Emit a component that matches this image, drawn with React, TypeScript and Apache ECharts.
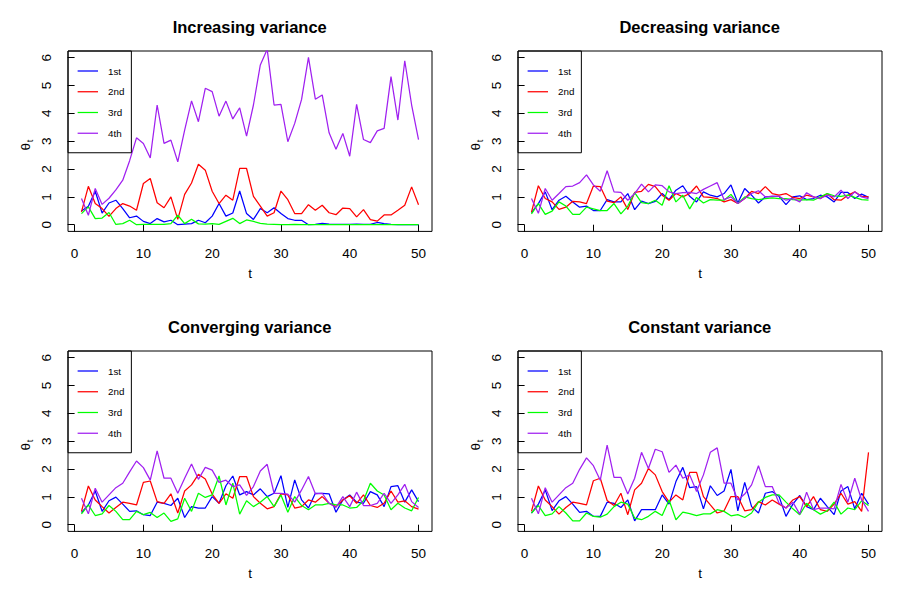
import React, { useEffect, useRef } from "react";
import * as echarts from "echarts";

const tValues = [1,2,3,4,5,6,7,8,9,10,11,12,13,14,15,16,17,18,19,20,21,22,23,24,25,26,27,28,29,30,31,32,33,34,35,36,37,38,39,40,41,42,43,44,45,46,47,48,49,50];
const seriesNames = ["1st", "2nd", "3rd", "4th"];
const seriesColors = ["#0000FF", "#FF0000", "#00FF00", "#A020F0"];
const panelTitles = ["Increasing variance", "Decreasing variance", "Converging variance", "Constant variance"];
const xTicks = [0, 10, 20, 30, 40, 50];
const yTicks = [0, 1, 2, 3, 4, 5, 6];

// Increasing variance
const incFirst = [0.49,0.66,1.2,0.42,0.78,0.88,0.58,0.25,0.31,0.12, 0.04,0.22,0.1,0.16,0.0,0.02,0.04,0.16,0.07,0.31, 0.76,0.31,0.42,1.21,0.4,0.19,0.58,0.43,0.61,0.4, 0.22,0.16,0.16,0.0,0.01,0.05,0.02,0.01,0.01,0.01, 0.02,0.01,0.01,0.08,0.04,0.01,0.0,0.0,0.0,0.0];
const incSecond = [0.46,1.38,0.76,0.58,0.3,0.58,0.76,0.67,0.52,1.48, 1.66,0.79,0.61,1.0,0.19,1.09,1.5,2.17,1.96,1.2, 0.76,1.06,0.88,2.02,2.02,1.02,0.67,0.31,0.43,1.21, 0.9,0.4,0.4,0.72,0.52,0.7,0.43,0.36,0.6,0.58, 0.28,0.54,0.18,0.13,0.35,0.35,0.52,0.7,1.36,0.72];
const incThird = [0.4,0.64,0.22,0.24,0.44,0.01,0.04,0.16,0.0,0.01, 0.01,0.01,0.01,0.04,0.34,0.04,0.2,0.03,0.02,0.04, 0.01,0.12,0.23,0.04,0.17,0.12,0.05,0.02,0.01,0.0, 0.0,0.01,0.0,0.0,0.0,0.0,0.0,0.0,0.0,0.0, 0.0,0.0,0.0,0.0,0.0,0.0,0.0,0.0,0.0,0.0];
const incFourth = [0.94,0.34,1.3,0.73,0.95,1.25,1.6,2.3,3.12,2.92, 2.4,4.3,2.92,3.04,2.26,3.4,4.45,3.7,4.9,4.78, 3.9,4.44,3.8,4.2,3.18,4.3,5.74,6.3,4.3,4.32, 2.98,3.64,4.5,6.01,4.51,4.66,3.3,2.71,3.28,2.46, 4.32,3.06,2.95,3.37,3.46,5.32,3.76,5.89,4.3,3.06];

// Decreasing variance
const decFirst = [0.43,0.76,1.18,0.54,0.88,1.02,0.82,0.63,0.67,0.51, 0.51,0.9,0.82,0.82,1.12,0.54,0.85,0.76,0.84,1.12, 0.9,1.24,1.4,1.02,0.82,1.18,1.06,1.0,1.12,1.43, 0.78,1.3,1.06,0.78,1.0,1.02,1.02,0.72,1.0,1.04, 0.9,0.94,1.06,1.0,0.82,1.16,1.16,0.94,1.1,0.98];
const decSecond = [0.45,1.4,0.94,0.82,0.55,0.63,0.84,0.82,0.76,1.39, 1.37,0.85,0.79,1.0,0.55,1.16,1.2,1.45,1.37,1.06, 0.88,1.12,1.0,1.12,1.39,1.0,0.98,0.94,0.82,0.9, 0.76,0.94,1.2,1.12,1.37,1.12,1.06,1.12,0.98,0.94, 1.06,1.0,0.94,1.12,0.9,0.88,1.06,1.18,1.02,1.0];
const decThird = [0.39,0.76,0.37,0.49,0.82,0.67,0.37,0.37,0.63,0.57, 0.51,0.51,0.76,0.39,0.67,1.15,0.79,0.76,0.88,0.7, 1.4,0.82,1.06,0.57,0.98,0.78,0.9,0.88,0.88,1.09, 0.76,1.0,0.94,0.9,0.94,0.96,0.94,0.94,0.9,0.88, 0.9,0.88,1.0,1.12,1.04,1.02,1.06,0.98,0.9,0.88];
const decFourth = [0.94,0.41,1.3,0.88,1.12,1.37,1.39,1.51,1.79,1.43, 1.2,1.94,1.18,1.16,0.88,1.12,1.46,1.18,1.43,1.4, 1.18,1.12,1.15,1.16,1.12,1.27,1.39,1.51,0.9,1.0, 0.76,0.94,1.12,1.22,1.0,1.02,1.02,0.88,0.94,0.82, 1.15,1.0,0.94,1.06,1.0,1.24,0.94,1.18,1.0,0.94];

// Converging variance
const convFirst = [0.44,0.71,1.21,0.48,0.86,0.99,0.74,0.48,0.5,0.36, 0.33,0.81,0.77,0.69,0.95,0.26,0.65,0.6,0.6,1.01, 0.77,1.4,1.75,1.07,1.19,1.07,1.29,1.01,1.13,1.76, 0.62,1.61,0.89,0.6,1.13,1.13,1.11,0.45,0.89,1.07, 0.81,0.77,1.19,1.07,0.65,1.37,1.4,0.81,1.25,0.83];
const convSecond = [0.48,1.39,0.89,0.65,0.42,0.62,0.81,0.77,0.71,1.52, 1.57,0.83,0.77,1.11,0.42,1.21,1.43,1.81,1.64,1.1, 0.77,1.11,0.95,1.73,1.73,1.01,0.77,0.57,0.65,1.11, 1.07,0.6,0.65,0.89,0.81,1.01,0.77,0.65,0.89,1.04, 0.77,1.07,0.69,0.62,0.77,1.21,0.81,0.86,0.65,0.56];
const convThird = [0.39,0.71,0.33,0.39,0.69,0.48,0.18,0.18,0.48,0.36, 0.44,0.26,0.42,0.12,0.21,0.95,0.48,1.13,0.98,1.07, 1.75,0.71,1.49,0.38,0.86,0.65,0.81,1.01,0.65,1.07, 0.45,1.01,0.69,0.54,0.71,0.71,0.77,0.71,0.71,0.6, 0.62,0.86,1.49,1.21,1.07,0.54,0.77,0.6,0.5,0.98];
const convFourth = [0.95,0.39,1.31,0.81,1.07,1.33,1.49,1.9,2.29,2.05, 1.6,2.65,1.67,1.67,1.13,1.67,2.18,1.63,2.06,1.96, 1.52,1.6,1.37,1.43,1.05,1.37,1.93,2.17,1.13,1.13, 1.1,0.81,1.25,1.73,1.11,1.13,0.77,0.62,1.01,0.65, 1.17,0.69,0.69,0.77,1.13,0.77,1.07,1.45,0.83,0.62];

// Constant variance
const constFirst = [0.42,0.74,1.25,0.51,0.86,1.01,0.74,0.44,0.48,0.3, 0.3,0.81,0.77,0.62,0.89,0.14,0.54,0.54,0.54,1.07, 0.74,1.55,2.06,1.33,1.37,0.57,1.4,1.05,1.21,1.99, 0.5,1.52,0.65,0.42,1.13,1.19,1.01,0.3,0.74,1.05, 0.65,0.54,0.95,0.65,0.36,1.21,1.37,0.57,1.13,0.74];
const constSecond = [0.48,1.39,0.89,0.65,0.38,0.62,0.81,0.77,0.71,1.58, 1.67,0.87,0.69,1.13,0.36,1.25,1.49,2.02,1.79,1.19, 0.81,1.07,0.89,1.88,1.88,1.01,0.71,0.42,0.5,1.01, 1.01,0.5,0.54,0.83,0.71,0.89,0.74,0.6,0.89,1.01, 0.65,1.01,0.54,0.48,0.74,1.13,0.74,0.83,0.48,2.6];
const constThird = [0.42,0.69,0.33,0.39,0.65,0.42,0.14,0.14,0.42,0.3, 0.27,0.38,0.65,0.81,0.74,0.24,0.18,0.3,0.48,0.33, 0.89,0.18,0.45,0.4,0.33,0.39,0.39,0.54,0.48,0.32, 0.36,0.26,0.42,0.81,0.98,1.07,1.07,0.81,0.57,0.36, 0.77,0.54,0.38,0.5,0.81,0.38,0.6,0.54,0.86,0.69];
const constFourth = [0.95,0.39,1.33,0.81,1.07,1.33,1.49,1.99,2.4,2.12, 1.6,2.86,1.7,1.7,1.1,1.67,2.6,2.02,2.71,2.62, 1.88,2.14,1.67,1.79,1.19,1.79,2.6,2.76,1.49,1.49, 0.89,1.1,1.43,2.12,1.37,1.37,0.77,0.6,0.81,0.38, 1.17,0.54,0.6,0.6,0.57,1.45,0.81,1.67,0.89,0.48];

const panelData = [
  [incFirst, incSecond, incThird, incFourth],
  [decFirst, decSecond, decThird, decFourth],
  [convFirst, convSecond, convThird, convFourth],
  [constFirst, constSecond, constThird, constFourth],
];

const FONT = '"Liberation Sans", Arial, Helvetica, sans-serif';
const GRID_W = 364;
const GRID_H = 180.4;
const gridPos = [
  { left: 68, top: 51 },
  { left: 518, top: 51 },
  { left: 68, top: 351 },
  { left: 518, top: 351 },
];

function buildOption() {
  const grid: any[] = [];
  const xAxis: any[] = [];
  const yAxis: any[] = [];
  const series: any[] = [];
  const title: any[] = [];
  const legend: any[] = [];
  const graphic: any[] = [];

  gridPos.forEach((g, p) => {
    grid.push({
      left: g.left, top: g.top, width: GRID_W, height: GRID_H,
      show: true, borderColor: "#000", borderWidth: 1, backgroundColor: "transparent",
      containLabel: false,
    });
    xAxis.push({
      type: "value", gridIndex: p, min: -0.96, max: 51.96,
      axisLine: { show: false },
      axisTick: { show: true, length: 7, lineStyle: { color: "#000", width: 1 }, customValues: xTicks },
      axisLabel: { customValues: xTicks, margin: 15.5, fontSize: 13.5, color: "#000", fontFamily: FONT },
      splitLine: { show: false },
      name: "t", nameLocation: "middle", nameGap: 35.5,
      nameTextStyle: { fontSize: 13.5, color: "#000", fontFamily: FONT },
    });
    yAxis.push({
      type: "value", gridIndex: p, min: -0.24, max: 6.24,
      axisLine: { show: false },
      axisTick: { show: true, length: 7, lineStyle: { color: "#000", width: 1 }, customValues: yTicks },
      axisLabel: { customValues: yTicks, rotate: 90, margin: 14.5, fontSize: 13.5, color: "#000", fontFamily: FONT },
      splitLine: { show: false },
    });
    title.push({
      text: panelTitles[p], left: g.left + GRID_W / 2 - 0.3, top: g.top - 32.3,
      textAlign: "center", padding: 0,
      textStyle: { fontSize: 16.5, fontWeight: "bold", color: "#000", fontFamily: FONT },
    });
    legend.push({
      orient: "vertical", left: g.left, top: g.top, selectedMode: false,
      data: seriesNames, itemWidth: 20.4, itemHeight: 14, itemGap: 6.75,
      padding: [13, 7, 12.5, 9],
      borderColor: "#000", borderWidth: 1, borderRadius: 0, backgroundColor: "transparent",
      itemStyle: { opacity: 0 },
      lineStyle: { width: 1.25, opacity: 1 },
      textStyle: { fontSize: 9.8, color: "#000", fontFamily: FONT, lineHeight: 14, width: 16, padding: [0, 0, 0, 5] },
    });
    graphic.push({
      type: "group", x: g.left - 43, y: g.top + 95.7, rotation: Math.PI / 2, silent: true,
      children: [
        { type: "text", x: 0, y: 0, style: { text: "θ", fontSize: 13.5, fontFamily: FONT, fill: "#000", align: "center", verticalAlign: "middle" } },
        { type: "text", x: 4.5, y: 4, style: { text: "t", fontSize: 9.5, fontFamily: FONT, fill: "#000", align: "left", verticalAlign: "middle" } },
      ],
    });
    panelData[p].forEach((vals, k) => {
      series.push({
        type: "line", name: seriesNames[k], xAxisIndex: p, yAxisIndex: p,
        data: tValues.map((t, i) => [t, vals[i]]),
        showSymbol: false, symbol: "none", clip: true, silent: true,
        lineStyle: { width: 1.25, color: seriesColors[k] },
        itemStyle: { color: seriesColors[k] },
      });
    });
  });

  return { animation: false, backgroundColor: "#fff", grid, xAxis, yAxis, series, title, legend, graphic };
}

export default function App() {
  const ref = useRef<HTMLDivElement>(null);
  useEffect(() => {
    if (!ref.current) return;
    const chart = echarts.init(ref.current, undefined, { renderer: "svg" });
    chart.setOption(buildOption() as any);
    return () => chart.dispose();
  }, []);
  return <div ref={ref} style={{ position: "absolute", left: 0, top: 0, width: 900, height: 600 }} />;
}
